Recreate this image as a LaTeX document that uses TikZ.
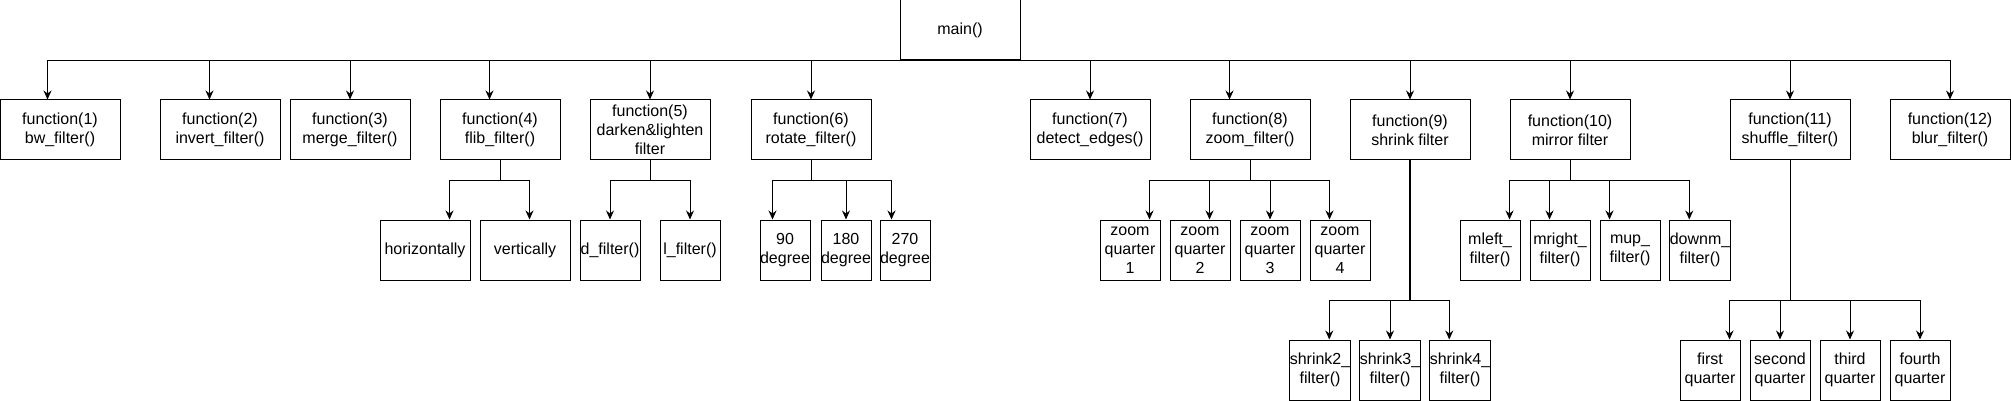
\documentclass[tikz,border=0pt]{standalone}
\usepackage{fontspec}
\setmainfont{Liberation Sans}
\usetikzlibrary{arrows.meta,calc}
\begin{document}
\begin{tikzpicture}[x=1pt,y=-1pt,line width=1pt,
  box/.style={draw, minimum height=60pt, inner sep=0pt, align=center,
    font=\fontsize{16pt}{19pt}\selectfont},
  wa/.style={box, minimum width=120pt},
  wb/.style={box, minimum width=90pt},
  wc/.style={box, minimum width=60pt},
  wd/.style={box, minimum width=50pt},
  arr/.style={-{Stealth[length=9pt,width=8pt,inset=3pt]}},
  stem/.style={line width=2pt}]
\useasboundingbox (0,0) rectangle (2011,401);
% level 0
\node[wa] (main) at (960,30) {main()};
% level 1
\node[wa] (f1) at (60,130) {function(1)\\bw\_filter()};
\node[wa] (f2) at (220,130) {function(2)\\invert\_filter()};
\node[wa] (f3) at (350,130) {function(3)\\merge\_filter()};
\node[wa] (f4) at (500,130) {function(4)\\flib\_filter()};
\node[wa] (f5) at (650,130) {function(5)\\darken\&lighten\\filter};
\node[wa] (f6) at (811,130) {function(6)\\rotate\_filter()};
\node[wa] (f7) at (1090,130) {function(7)\\detect\_edges()};
\node[wa] (f8) at (1250,130) {function(8)\\zoom\_filter()};
\node[wa] (f9) at (1410,130) {function(9)\\shrink filter};
\node[wa] (f10) at (1570,130) {function(10)\\mirror filter};
\node[wa] (f11) at (1790,130) {function(11)\\shuffle\_filter()};
\node[wa] (f12) at (1950,130) {function(12)\\blur\_filter()};
% level 2
\node[wb] (hor) at (425,250) {horizontally};
\node[wb] (ver) at (525,250) {vertically};
\node[wc] (df) at (610,250) {d\_filter()};
\node[wc] (lf) at (690,250) {l\_filter()};
\node[wd] (d90) at (785,250) {90\\degree};
\node[wd] (d180) at (846,250) {180\\degree};
\node[wd] (d270) at (905,250) {270\\degree};
\node[wc] (zq1) at (1130,250) {zoom\\quarter\\1};
\node[wc] (zq2) at (1200,250) {zoom\\quarter\\2};
\node[wc] (zq3) at (1270,250) {zoom\\quarter\\3};
\node[wc] (zq4) at (1340,250) {zoom\\quarter\\4};
\node[wc] (ml) at (1490,250) {mleft\_\\filter()};
\node[wc] (mr) at (1560,250) {mright\_\\filter()};
\node[wc] (mu) at (1630,250) {mup\_\\filter()};
\node[wc] (dm) at (1700,250) {downm\_\\filter()};
% level 3
\node[wc] (s2) at (1320,370) {shrink2\_\\filter()};
\node[wc] (s3) at (1390,370) {shrink3\_\\filter()};
\node[wc] (s4) at (1460,370) {shrink4\_\\filter()};
\node[wc] (q1) at (1710,370) {first\\quarter};
\node[wc] (q2) at (1780,370) {second\\quarter};
\node[wc] (q3) at (1850,370) {third\\quarter};
\node[wc] (q4) at (1920,370) {fourth\\quarter};
% level 1 connectors
\draw[arr] (main.south) -| ($(f1.north west)+(48,0)$);
\draw[arr] (main.south) -| ($(f2.north west)+(50,0)$);
\draw[arr] (main.south) -| (f3.north);
\draw[arr] (main.south) -| ($(f4.north west)+(50,0)$);
\draw[arr] (main.south) -| (f5.north);
\draw[arr] (main.south) -| (f6.north);
\draw[arr] (main.south) -| (f7.north);
\draw[arr] (main.south) -| ($(f8.north west)+(40,0)$);
\draw[arr] (main.south) -| (f9.north);
\draw[arr] (main.south) -| (f10.north);
\draw[arr] (main.south) -| (f11.north);
\draw[arr] (main.south) -| (f12.north);
% level 2 connectors
\draw[arr] (f4.south) -- ++(0,20) -| ($(hor.north west)+(70,0)$);
\draw[arr] (f4.south) -- ++(0,20) -| ($(ver.north west)+(50,0)$);
\draw[arr] (f5.south) -- ++(0,20) -| (df.north);
\draw[arr] (f5.south) -- ++(0,20) -| (lf.north);
\draw[arr] (f6.south) -- ++(0,20) -| ($(d90.north west)+(13,0)$);
\draw[arr] (f6.south) -- ++(0,20) -| (d180.north);
\draw[arr] (f6.south) -- ++(0,20) -| ($(d270.north west)+(12,0)$);
\draw[arr] (f8.south) -- ++(0,20) -| ($(zq1.north west)+(50,0)$);
\draw[arr] (f8.south) -- ++(0,20) -| ($(zq2.north west)+(40,0)$);
\draw[arr] (f8.south) -- ++(0,20) -| (zq3.north);
\draw[arr] (f8.south) -- ++(0,20) -| ($(zq4.north west)+(20,0)$);
\draw[arr] (f10.south) -- ++(0,20) -| ($(ml.north west)+(50,0)$);
\draw[arr] (f10.south) -- ++(0,20) -| ($(mr.north west)+(20,0)$);
\draw[arr] (f10.south) -- ++(0,20) -| ($(mu.north west)+(10,0)$);
\draw[arr] (f10.south) -- ++(0,20) -| ($(dm.north west)+(20,0)$);
% level 3 connectors
\coordinate (b9) at (1410,300);
\coordinate (b11) at (1790,300);
\draw[stem] (f9.south) -- (b9);
\draw[arr] (b9) -| ($(s2.north west)+(40,0)$);
\draw[arr] (b9) -| (s3.north);
\draw[arr] (b9) -| ($(s4.north west)+(20,0)$);
\draw (f11.south) -- (b11);
\draw[arr] (b11) -| ($(q1.north west)+(50,0)$);
\draw[arr] (b11) -| (q2.north);
\draw[arr] (b11) -| (q3.north);
\draw[arr] (b11) -| (q4.north);
\end{tikzpicture}
\end{document}
